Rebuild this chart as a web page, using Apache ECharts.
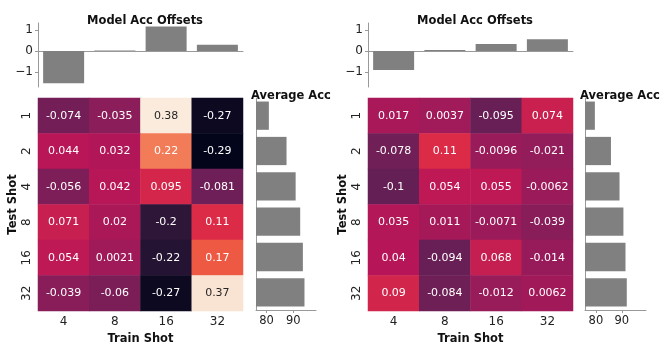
<!DOCTYPE html>
<html>
<head>
<meta charset="utf-8">
<script src="https://cdn.jsdelivr.net/npm/echarts@6/dist/echarts.min.js"></script>
<style>
html, body { margin: 0; padding: 0; background: #fff; }
#main { width: 664px; height: 352px; }
</style>
</head>
<body>
<div id="main"></div>
<script>
// categories
var trainShots = ["4", "8", "16", "32"];
var testShots = ["1", "2", "4", "8", "16", "32"];

// model acc offsets (top bars)
var offsetsLeft = [-1.52, 0.03, 1.16, 0.3];
var offsetsRight = [-0.9, 0.05, 0.33, 0.56];

// heatmap values, rows = test shot, cols = train shot
var heatLeft = [
  [-0.074, -0.035, 0.38, -0.27],
  [0.044, 0.032, 0.22, -0.29],
  [-0.056, 0.042, 0.095, -0.081],
  [0.071, 0.02, -0.2, 0.11],
  [0.054, 0.0021, -0.22, 0.17],
  [-0.039, -0.06, -0.27, 0.37]
];
var heatRight = [
  [0.017, 0.0037, -0.095, 0.074],
  [-0.078, 0.11, -0.0096, -0.021],
  [-0.1, 0.054, 0.055, -0.0062],
  [0.035, 0.011, -0.0071, -0.039],
  [0.04, -0.094, 0.068, -0.014],
  [0.09, -0.084, -0.012, 0.0062]
];

// average acc (side bars)
var avgLeft = [80.9, 87.5, 90.9, 92.6, 93.6, 94.2];
var avgRight = [79.6, 85.8, 89.1, 90.6, 91.4, 91.9];

var offsetTicks = [-1, 0, 1];
var accTicks = [80, 90];

var rocket = ["#03051A", "#221331", "#451C47", "#6A1F56", "#921C5B", "#B91657",
  "#DD2C45", "#F06043", "#F58E66", "#F6B894", "#FAEBDD"];

var FONT = "DejaVu Sans";
var AXIS = "#999";
var GREY = "#808080";

function fmt(v) {
  return String(Number(v.toPrecision(2)));
}
function minus(v) {
  return v < 0 ? "\u2212" + Math.abs(v) : String(v);
}
function heatData(m) {
  var out = [];
  m.forEach(function (row, r) {
    row.forEach(function (v, c) {
      out.push({ value: [c, r, v], label: { color: v > 0.3 ? "#262626" : "#fff" } });
    });
  });
  return out;
}

var grids = [
  { left: 38, top: 23, width: 205, height: 64 },
  { left: 38, top: 98, width: 205, height: 213 },
  { left: 256, top: 98, width: 60, height: 212 },
  { left: 368, top: 23, width: 205, height: 64 },
  { left: 368, top: 98, width: 205, height: 213 },
  { left: 585, top: 98, width: 61, height: 212 }
];

var boldText = { fontFamily: "DejaVu Sans", fontWeight: "bold", fontSize: 11.5, color: "#111" };

var xAxes = [], yAxes = [];
[0, 3].forEach(function (g) {
  xAxes[g] = {
    gridIndex: g, type: "category", data: trainShots,
    axisLine: { lineStyle: { color: AXIS } },
    axisTick: { alignWithLabel: true, length: 3, lineStyle: { color: AXIS } },
    axisLabel: { show: false }
  };
  yAxes[g] = {
    gridIndex: g, type: "value", min: -1.7, max: 1.33,
    axisLine: { show: true, lineStyle: { color: AXIS } },
    axisTick: { show: true, length: 3, customValues: offsetTicks, lineStyle: { color: AXIS } },
    axisLabel: { customValues: offsetTicks, formatter: minus, fontFamily: FONT, fontSize: 12, color: "#222", margin: 5 },
    splitLine: { show: false }
  };
});
[1, 4].forEach(function (g) {
  xAxes[g] = {
    gridIndex: g, type: "category", data: trainShots,
    name: "Train Shot", nameLocation: "middle", nameGap: 20,
    nameTextStyle: boldText,
    axisLine: { show: false },
    axisTick: { alignWithLabel: true, length: 3, lineStyle: { color: "#333" } },
    axisLabel: { fontFamily: FONT, fontSize: 12, color: "#222", margin: 5 }
  };
  yAxes[g] = {
    gridIndex: g, type: "category", data: testShots, inverse: true,
    name: "Test Shot", nameLocation: "middle", nameGap: 19,
    nameTextStyle: boldText,
    axisLine: { show: false },
    axisTick: { alignWithLabel: true, length: 3, lineStyle: { color: "#333" } },
    axisLabel: { rotate: 90, fontFamily: FONT, fontSize: 12, color: "#222", margin: 5 }
  };
});
[[2, 76.1, 98.5], [5, 75.8, 99.3]].forEach(function (a) {
  var g = a[0];
  xAxes[g] = {
    gridIndex: g, type: "value", min: a[1], max: a[2],
    axisLine: { show: true, lineStyle: { color: AXIS } },
    axisTick: { show: true, length: 3, customValues: accTicks, lineStyle: { color: AXIS } },
    axisLabel: { customValues: accTicks, fontFamily: FONT, fontSize: 11.5, color: "#222", margin: 5 },
    splitLine: { show: false }
  };
  yAxes[g] = {
    gridIndex: g, type: "category", data: testShots, inverse: true,
    axisLine: { show: true, lineStyle: { color: AXIS } },
    axisTick: { alignWithLabel: true, length: 3, lineStyle: { color: AXIS } },
    axisLabel: { show: false }
  };
});

var heatLabel = {
  show: true, fontFamily: FONT, fontSize: 11,
  formatter: function (p) { return fmt(p.value[2]); }
};

var option = {
  animation: false,
  backgroundColor: "#fff",
  title: [
    { text: "Model Acc Offsets", left: 140, top: 10, textAlign: "center", textStyle: boldText },
    { text: "Model Acc Offsets", left: 470, top: 10, textAlign: "center", textStyle: boldText },
    { text: "Average Acc", left: 286, top: 85, textAlign: "center", textStyle: boldText },
    { text: "Average Acc", left: 615, top: 85, textAlign: "center", textStyle: boldText }
  ],
  grid: grids,
  xAxis: xAxes,
  yAxis: yAxes,
  visualMap: [
    { show: false, seriesIndex: 1, dimension: 2, min: -0.29, max: 0.38, inRange: { color: rocket } },
    { show: false, seriesIndex: 4, dimension: 2, min: -0.29, max: 0.38, inRange: { color: rocket } }
  ],
  series: [
    { type: "bar", xAxisIndex: 0, yAxisIndex: 0, data: offsetsLeft, barCategoryGap: "20%", itemStyle: { color: GREY } },
    { type: "heatmap", xAxisIndex: 1, yAxisIndex: 1, data: heatData(heatLeft), label: heatLabel, emphasis: { disabled: true } },
    { type: "bar", xAxisIndex: 2, yAxisIndex: 2, data: avgLeft, barCategoryGap: "20%", itemStyle: { color: GREY } },
    { type: "bar", xAxisIndex: 3, yAxisIndex: 3, data: offsetsRight, barCategoryGap: "20%", itemStyle: { color: GREY } },
    { type: "heatmap", xAxisIndex: 4, yAxisIndex: 4, data: heatData(heatRight), label: heatLabel, emphasis: { disabled: true } },
    { type: "bar", xAxisIndex: 5, yAxisIndex: 5, data: avgRight, barCategoryGap: "20%", itemStyle: { color: GREY } }
  ]
};

var myChart = echarts.init(document.getElementById("main"));
myChart.setOption(option);
window.addEventListener("resize", function () {
  myChart.resize();
});
</script>
</body>
</html>
